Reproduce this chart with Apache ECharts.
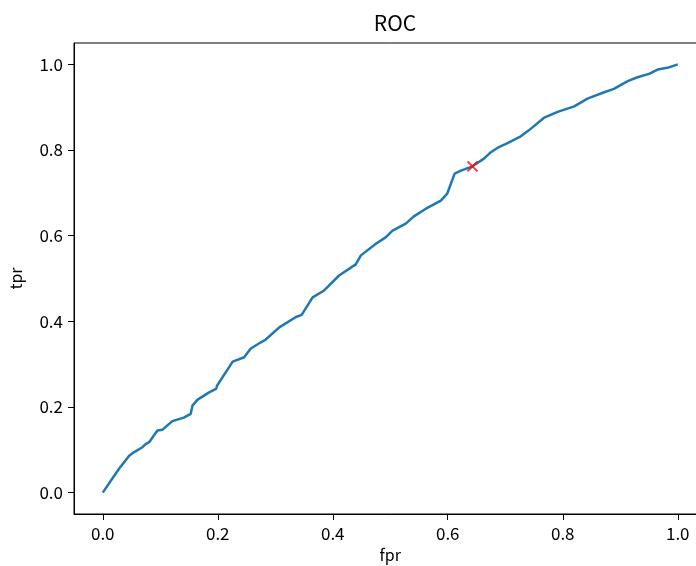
<!DOCTYPE html>
<html>
<head>
<meta charset="utf-8">
<script src="https://cdn.jsdelivr.net/npm/echarts@6/dist/echarts.min.js"></script>
<style>
  html, body { margin: 0; padding: 0; background: #fff; overflow: hidden; }
  /* 画布比窗口宽一点，右边框落在窗口外 */
  #main { width: 720px; height: 566px; }
</style>
</head>
<body>
<div id="main"></div>
<script>
// ROC 曲线的点（从图上读出来的）
var fpr = [0, 0.028, 0.046, 0.054, 0.069, 0.075, 0.081, 0.095, 0.104, 0.121, 0.141, 0.153, 0.156, 0.165, 0.185, 0.197,
  0.199, 0.226, 0.246, 0.257, 0.275, 0.283, 0.307, 0.336, 0.346, 0.365, 0.385, 0.411, 0.440, 0.449, 0.475, 0.492,
  0.504, 0.527, 0.541, 0.562, 0.588, 0.599, 0.612, 0.623, 0.643, 0.663, 0.675, 0.689, 0.704, 0.727, 0.741, 0.767,
  0.791, 0.820, 0.843, 0.872, 0.889, 0.913, 0.930, 0.950, 0.965, 0.982, 1.0];
var tpr = [0, 0.055, 0.086, 0.094, 0.106, 0.114, 0.118, 0.145, 0.147, 0.167, 0.175, 0.184, 0.203, 0.217, 0.234, 0.242,
  0.250, 0.306, 0.316, 0.336, 0.351, 0.357, 0.386, 0.410, 0.415, 0.456, 0.472, 0.507, 0.533, 0.554, 0.581, 0.596,
  0.612, 0.628, 0.645, 0.663, 0.682, 0.698, 0.745, 0.752, 0.762, 0.780, 0.795, 0.807, 0.816, 0.832, 0.846, 0.875,
  0.889, 0.902, 0.920, 0.935, 0.943, 0.961, 0.970, 0.978, 0.988, 0.992, 1.0];
// 最佳阈值点
var bestFpr = [0.643];
var bestTpr = [0.762];
var tickValues = [0, 0.2, 0.4, 0.6, 0.8, 1.0];

var font = "'Noto Sans CJK JP', 'DejaVu Sans', sans-serif";

var rocData = fpr.map(function (v, i) { return [v, tpr[i]]; });
var bestData = bestFpr.map(function (v, i) { return [v, bestTpr[i]]; });

function axisOpt(name, gap) {
  return {
    type: 'value',
    min: -0.05,
    max: 1.05,
    name: name,
    nameLocation: 'middle',
    nameGap: gap,
    nameTextStyle: { color: '#000', fontSize: 16, fontFamily: font },
    splitLine: { show: false },
    axisLine: { show: true, onZero: false, lineStyle: { color: '#000', width: 1 } },
    axisTick: { show: true, inside: false, length: 6, customValues: tickValues, lineStyle: { color: '#000', width: 1 } },
    axisLabel: {
      customValues: tickValues,
      margin: 11,
      color: '#000',
      fontSize: 17,
      fontFamily: font,
      formatter: function (v) { return v.toFixed(1); }
    }
  };
}

var chart = echarts.init(document.getElementById('main'), null, { renderer: 'canvas' });
chart.setOption({
  animation: false,
  backgroundColor: '#fff',
  title: {
    text: 'ROC',
    left: 390,
    top: 8,
    textAlign: 'center',
    textStyle: { color: '#000', fontSize: 21, fontWeight: 'normal', fontFamily: font }
  },
  grid: {
    show: true,
    left: 74,
    top: 43,
    width: 632.5,
    height: 471,
    containLabel: false,
    outerBoundsMode: 'none',
    borderColor: '#000',
    borderWidth: 1
  },
  xAxis: axisOpt('fpr', 31),
  yAxis: axisOpt('tpr', 50),
  series: [{
    type: 'line',
    data: rocData,
    showSymbol: false,
    symbol: 'none',
    lineStyle: { color: '#1f77b4', width: 2.5 },
    z: 2
  }, {
    type: 'scatter',
    data: bestData,
    symbol: 'path://M0,0L10,10M10,0L0,10',
    symbolSize: 10,
    itemStyle: { color: 'none', borderColor: '#ff0000', borderWidth: 1.8 },
    z: 3
  }]
});
</script>
</body>
</html>
